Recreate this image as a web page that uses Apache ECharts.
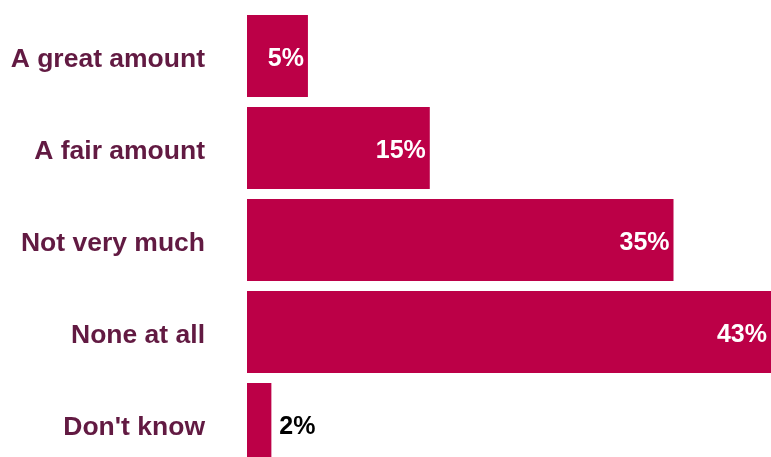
<!DOCTYPE html>
<html>
<head>
<meta charset="utf-8">
<style>
  html, body { margin: 0; padding: 0; background: #fff; }
  #chart { width: 771px; height: 457px; }
</style>
<script src="https://cdn.jsdelivr.net/npm/echarts@6/dist/echarts.min.js"></script>
</head>
<body>
<div id="chart"></div>
<script>
const categories = ['A great amount', 'A fair amount', 'Not very much', 'None at all', "Don't know"];
const values = [5, 15, 35, 43, 2];

const chart = echarts.init(document.getElementById('chart'));

const colors = {
    bar: '#bc0047',
    label: '#621a42'
};

// small bars get the label outside in black
const data = values.map(v => {
    if (v < 4) {
        return {
            value: v,
            label: { position: 'right', color: '#000', distance: 8 }
        };
    }
    return v;
});

const labelFont = {
    color: colors.label,
    fontSize: 26.5,
    fontWeight: 'bold',
    fontFamily: 'Liberation Sans, Arial, sans-serif'
};

chart.setOption({
    animation: false,
    grid: { left: 247, top: 10, width: 524, height: 460, outerBoundsMode: 'none' },
    xAxis: {
        type: 'value',
        min: 0,
        max: 43,
        show: false
    },
    yAxis: {
        type: 'category',
        data: categories,
        inverse: true,
        axisLine: { show: false },
        axisTick: { show: false },
        axisLabel: {
            ...labelFont,
            margin: 42,
            formatter: '{a|{value}}',
            rich: {
                a: { ...labelFont, padding: [7, 0, 0, 0] }
            }
        }
    },
    series: [{
        type: 'bar',
        data: data,
        barWidth: 82,
        itemStyle: { color: colors.bar },
        label: {
            show: true,
            position: 'insideRight',
            distance: 4,
            offset: [0, 3],
            color: '#fff',
            fontSize: 25,
            fontWeight: 'bold',
            fontFamily: 'Liberation Sans, Arial, sans-serif',
            formatter: '{c}%'
        },
        emphasis: { disabled: true }
    }]
});
</script>
</body>
</html>
